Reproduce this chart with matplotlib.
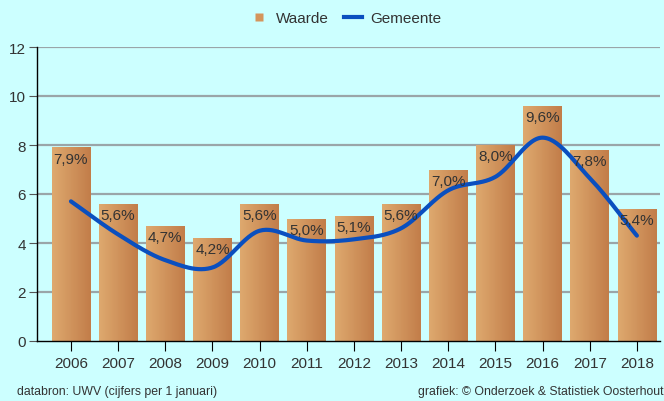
import numpy as np
import matplotlib
matplotlib.use("Agg")
import matplotlib.pyplot as plt
from matplotlib.colors import LinearSegmentedColormap
from matplotlib.lines import Line2D

years = ["2006", "2007", "2008", "2009", "2010", "2011", "2012",
         "2013", "2014", "2015", "2016", "2017", "2018"]
waarde = [7.9, 5.6, 4.7, 4.2, 5.6, 5.0, 5.1, 5.6, 7.0, 8.0, 9.6, 7.8, 5.4]
gemeente = [5.7, 4.35, 3.3, 3.0, 4.5, 4.1, 4.15, 4.6, 6.15, 6.7, 8.3, 6.65, 4.3]
labels = ["7,9%", "5,6%", "4,7%", "4,2%", "5,6%", "5,0%", "5,1%",
          "5,6%", "7,0%", "8,0%", "9,6%", "7,8%", "5,4%"]

bg = "#ccffff"
fig = plt.figure(figsize=(6.64, 4.02), dpi=100, facecolor=bg)
ax = fig.add_axes([37/664, 60/402, 623/664, 294/402])
ax.set_facecolor(bg)

x = np.arange(len(years))
width = 0.82

for yv in range(2, 13, 2):
    ax.axhline(yv, color="#9aa5a8", lw=1.6, zorder=1)

cmap = LinearSegmentedColormap.from_list("bar", ["#dea96f", "#c27d49"])
grad = np.linspace(0, 1, 64).reshape(1, -1)
bars = ax.bar(x, waarde, width=width, color="none", edgecolor="none", zorder=2)
for b in bars:
    x0, y0 = b.get_x(), b.get_y()
    w, h = b.get_width(), b.get_height()
    im = ax.imshow(grad, cmap=cmap, aspect="auto",
                   extent=(x0, x0 + w, y0, y0 + h), zorder=2,
                   interpolation="bicubic")
    im.set_clip_path(b)
ax.set_xlim(-0.72, len(years) - 1 + 0.49)
ax.set_ylim(0, 12)

for xi, v, lab in zip(x, waarde, labels):
    ax.annotate(lab, (xi, v), xytext=(0, -3), textcoords="offset points",
                ha="center", va="top", fontsize=11, color="#333333",
                fontfamily="Liberation Sans", zorder=4)

# smooth curve (Catmull-Rom through the data points)
def catmull(xs, ys, n=30):
    xs = np.asarray(xs, float); ys = np.asarray(ys, float)
    px = np.concatenate([[2*xs[0]-xs[1]], xs, [2*xs[-1]-xs[-2]]])
    py = np.concatenate([[2*ys[0]-ys[1]], ys, [2*ys[-1]-ys[-2]]])
    ox, oy = [], []
    for i in range(1, len(px) - 2):
        t = np.linspace(0, 1, n, endpoint=False)
        for arr, out in ((px, ox), (py, oy)):
            p0, p1, p2, p3 = arr[i-1], arr[i], arr[i+1], arr[i+2]
            out.extend(0.5*((2*p1) + (-p0+p2)*t + (2*p0-5*p1+4*p2-p3)*t**2
                            + (-p0+3*p1-3*p2+p3)*t**3))
    ox.append(xs[-1]); oy.append(ys[-1])
    return np.array(ox), np.array(oy)

cx, cy = catmull(x, gemeente)
ax.plot(cx, cy, color="#0a4fbf", lw=3, solid_capstyle="round", zorder=3)

for s in ["top", "right"]:
    ax.spines[s].set_visible(False)
ax.spines["left"].set_color("black")
ax.spines["bottom"].set_color("black")
ax.spines["left"].set_linewidth(1)
ax.spines["bottom"].set_linewidth(1)

ax.set_yticks(range(0, 13, 2))
ax.set_xticks(x)
ax.set_xticklabels(years)
ax.tick_params(axis="y", length=6, color="#555555", labelsize=11,
               labelcolor="#333333", pad=2)
ax.tick_params(axis="x", length=7, color="black", labelsize=11,
               labelcolor="#333333", pad=4)
for t in ax.get_xticklabels() + ax.get_yticklabels():
    t.set_fontfamily("Liberation Sans")

handles = [Line2D([0], [0], marker="s", color="none", markerfacecolor="#d4955c",
                  markeredgecolor="none", markersize=6),
           Line2D([0], [0], color="#0a4fbf", lw=3)]
fig.legend(handles, ["Waarde", "Gemeente"], loc="center",
           bbox_to_anchor=(0.52, 1 - 19/402), ncol=2, frameon=False,
           prop={"family": "Liberation Sans", "size": 11},
           handlelength=1.2, columnspacing=1.0,
           handletextpad=0.5, labelcolor="#333333")

fig.text(17/664, 1 - 392/402, "databron: UWV (cijfers per 1 januari)",
         fontsize=8.8, color="#333333", fontfamily="Liberation Sans",
         va="center", ha="left")
fig.text(663/664, 1 - 392/402, "grafiek: \u00a9 Onderzoek & Statistiek Oosterhout",
         fontsize=8.8, color="#333333", fontfamily="Liberation Sans",
         va="center", ha="right")

fig.savefig("out.png", dpi=100, facecolor=bg)
